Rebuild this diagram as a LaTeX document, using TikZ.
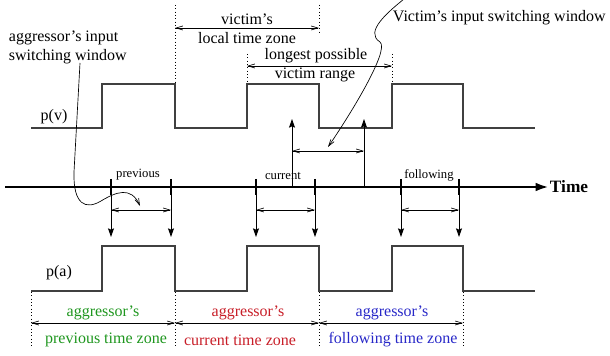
\documentclass[tikz,border=0pt]{standalone}
\usepackage{fontspec}
\setmainfont{Liberation Serif}
\usepackage{xcolor}
\usetikzlibrary{
    arrows.meta,
    positioning,
    calc
}
\definecolor{zoneprev}{RGB}{30,150,30}
\definecolor{zonecurr}{RGB}{200,30,40}
\definecolor{zonefoll}{RGB}{40,40,200}

\begin{document}
\begin{tikzpicture}[
        x=0.75pt, y=-0.75pt,
        wave/.style={
            draw=black!75,
            line width=0.9pt
        },
        axis/.style={
            line width=2.1pt,
            -{Latex[length=10pt,width=6.5pt]}
        },
        tickmark/.style={
            line width=2.1pt
        },
        drop/.style={
            line width=0.7pt,
            -{Stealth[length=6.5pt,width=4.5pt,inset=1pt]}
        },
        span/.style={
            line width=0.5pt,
            {Straight Barb[length=5pt,width=3pt]}-{Straight Barb[length=5pt,width=3pt]}
        },
        pointer/.style={
            line width=0.5pt,
            -{Straight Barb[length=5pt,width=3pt]}
        },
        guide/.style={
            dotted,
            line width=0.5pt
        },
        label/.style={
            font=\fontsize{12}{14.25}\selectfont,
            inner sep=0.5pt
        },
        tag/.style={
            font=\fontsize{9.5}{11}\selectfont,
            inner sep=0.5pt
        }
    ]

    \useasboundingbox (0,0) rectangle (610,356);

    % waveforms
    \draw[wave] (31,128) -- (102,128) -- (102,84) -- (175,84) -- (175,128)
        -- (247,128) -- (247,84) -- (319,84) -- (319,128) -- (392,128)
        -- (392,84) -- (463,84) -- (463,128) -- (535,128);
    \draw[wave] (31,291) -- (102,291) -- (102,246) -- (175,246) -- (175,291)
        -- (247,291) -- (247,246) -- (319,246) -- (319,291) -- (392,291)
        -- (392,246) -- (463,246) -- (463,291) -- (535,291);

    \node[label] (pv) at (54,117) {p(v)};
    \node[label] (pa) at (59,273) {p(a)};

    % time axis
    \coordinate (axisstart) at (5,187);
    \node[label, font=\fontsize{13}{15}\selectfont\bfseries, anchor=west] (time) at (549,187) {Time};
    \draw[axis] (axisstart) -- (time.west);

    \coordinate (prevA) at (111,187);
    \coordinate (prevB) at (171,187);
    \coordinate (currA) at (256,187);
    \coordinate (currB) at (315,187);
    \coordinate (follA) at (401,187);
    \coordinate (follB) at (459,187);

    \draw[tickmark] ($(prevA)+(0,-8)$) -- ($(prevA)+(0,8)$);
    \draw[tickmark] ($(prevB)+(0,-8)$) -- ($(prevB)+(0,8)$);
    \draw[tickmark] ($(currA)+(0,-8)$) -- ($(currA)+(0,8)$);
    \draw[tickmark] ($(currB)+(0,-8)$) -- ($(currB)+(0,8)$);
    \draw[tickmark] ($(follA)+(0,-8)$) -- ($(follA)+(0,8)$);
    \draw[tickmark] ($(follB)+(0,-8)$) -- ($(follB)+(0,8)$);

    \node[tag] (prevtag) at (138,175) {previous};
    \node[tag] (currtag) at (283,176) {current};
    \node[tag] (folltag) at (429,175) {following};

    % aggressor windows mapped onto p(a)
    \draw[drop] (prevA) -- ++(0,50);
    \draw[drop] (prevB) -- ++(0,50);
    \draw[drop] (currA) -- ++(0,50);
    \draw[drop] (currB) -- ++(0,50);
    \draw[drop] (follA) -- ++(0,50);
    \draw[drop] (follB) -- ++(0,50);

    \draw[span] ($(prevA)+(0,23)$) -- ($(prevB)+(0,23)$);
    \draw[span] ($(currA)+(0,23)$) -- ($(currB)+(0,23)$);
    \draw[span] ($(follA)+(0,23)$) -- ($(follB)+(0,23)$);

    % victim window
    \coordinate (victA) at (292,187);
    \coordinate (victB) at (364,187);
    \draw[drop] (victA) -- ++(0,-68);
    \draw[drop] (victB) -- ++(0,-68);
    \draw[span] ($(victA)+(0,-36)$) -- ($(victB)+(0,-36)$);

    % victim's local time zone
    \draw[guide] (175,5) -- (175,84);
    \draw[guide] (319,5) -- (319,32);
    \draw[span] (175,28) -- (319,28);
    \node[label] (localA) at (247,19) {victim's};
    \node[label] (localB) at (247,38) {local time zone};

    % longest possible victim range
    \draw[guide] (247,54) -- (247,84);
    \draw[guide] (392,54) -- (392,84);
    \node[label] (rangeA) at (316,56) {longest possible};
    \node[label] (rangeB) at (315,74.5) {victim range};
    \draw[span] (247,66) -- (392,66);

    % aggressor's time zones
    \draw[guide] (31,292) -- (31,348);
    \draw[guide] (175,292) -- (175,348);
    \draw[guide] (319,292) -- (319,348);
    \draw[guide] (463,292) -- (463,348);
    \draw[span] (31,323) -- (175,323);
    \draw[span] (175,323) -- (319,323);
    \draw[span] (319,323) -- (463,323);

    \node[label, text=zoneprev] (prevzoneA) at (103,313) {aggressor's};
    \node[label, text=zoneprev] (prevzoneB) at (106,340) {previous time zone};
    \node[label, text=zonecurr] (currzoneA) at (248,313) {aggressor's};
    \node[label, text=zonecurr] (currzoneB) at (240,340) {current time zone};
    \node[label, text=zonefoll] (follzoneA) at (392,313) {aggressor's};
    \node[label, text=zonefoll] (follzoneB) at (393,340) {following time zone};

    % window callouts
    \node[label, align=left, anchor=west] (aggwin) at (8,47.5)
        {aggressor's input\\switching window};
    \coordinate (aggtip) at (140,206);
    \draw[pointer] (80,63) -- (74,172)
        .. controls (73,205) and (86,210) .. (101,201)
        .. controls (116,192) and (131,186) .. (aggtip);

    \node[label, anchor=west] (victwin) at (392,18) {Victim's input switching window};
    \coordinate (victtip) at (328,147);
    \draw[pointer] (404,-1)
        .. controls (388,12) and (364,32) .. (380,42)
        .. controls (390,50) and (350,115) .. (victtip);

\end{tikzpicture}
\end{document}
